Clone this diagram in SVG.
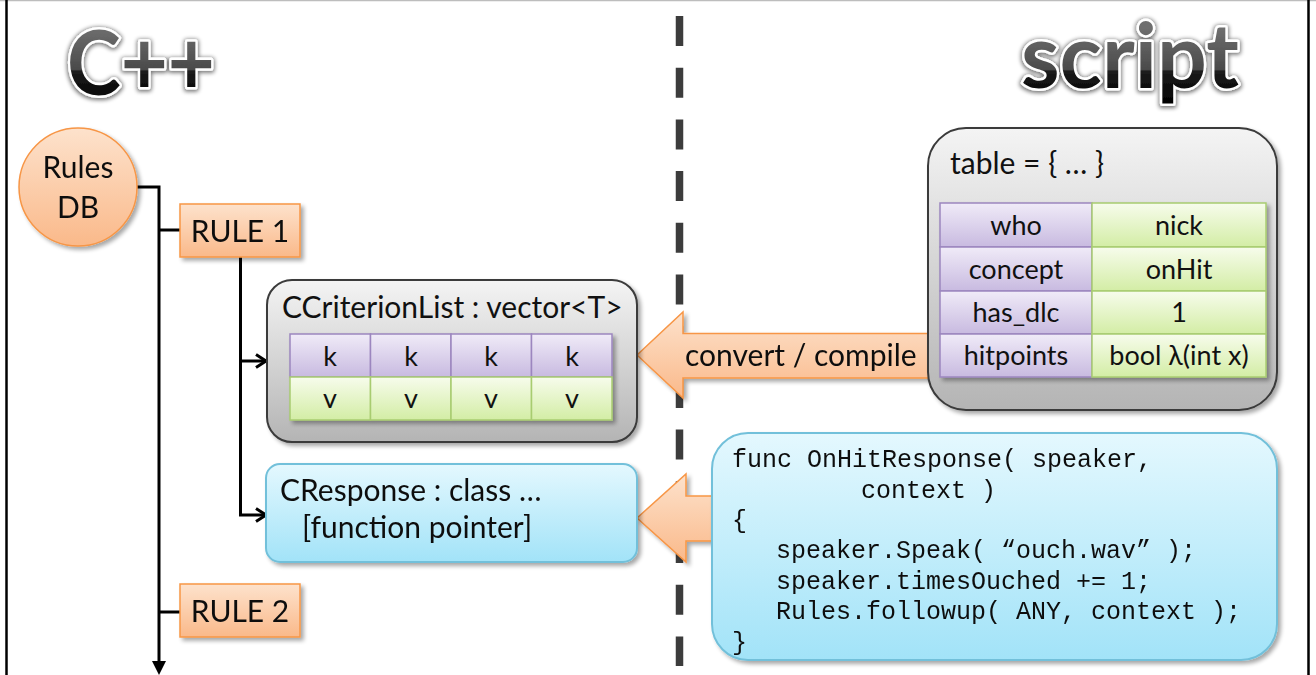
<svg xmlns="http://www.w3.org/2000/svg" width="1316" height="675" viewBox="0 0 1316 675">
<style>
  .lbl { font-family: Lato, "Open Sans", "Liberation Sans", sans-serif; font-size: 30px; fill: #111; }
  .cell { font-family: Lato, "Open Sans", "Liberation Sans", sans-serif; font-size: 27px; fill: #111; text-anchor: middle; }
  .mid { text-anchor: middle; }
  .code { font-family: "Liberation Mono", "DejaVu Sans Mono", monospace; font-size: 25px; fill: #111; }
  .title { font-family: Lato, "Open Sans", "Liberation Sans", sans-serif; font-weight: 700; font-size: 90px; fill: url(#gTitle); stroke: #ffffff; stroke-width: 5; paint-order: stroke; stroke-linejoin: round; }
  .conn { fill: none; stroke: #000; stroke-width: 3; }
  .orangeBox { fill: url(#gOrange); stroke: #f79646; stroke-width: 1.5; }
  .grayBox { fill: url(#gGray); stroke: #3a3a3a; stroke-width: 2; }
  .blueBox { fill: url(#gBlue); stroke: #72c0da; stroke-width: 2; }
  .pk { fill: url(#gPurple); stroke: #9c86bf; stroke-width: 1.5; }
  .gv { fill: url(#gGreen); stroke: #a8cc70; stroke-width: 1.5; }
  .block { fill: url(#gOrange); stroke: #f79646; stroke-width: 1.5; }
</style>
<defs>
  <linearGradient id="gGray" x1="0" y1="0" x2="0" y2="1">
    <stop offset="0" stop-color="#f4f4f4"/><stop offset="1" stop-color="#b4b4b4"/>
  </linearGradient>
  <linearGradient id="gBlue" x1="0" y1="0" x2="0" y2="1">
    <stop offset="0" stop-color="#e4f8fe"/><stop offset="1" stop-color="#a2e3f8"/>
  </linearGradient>
  <linearGradient id="gOrange" x1="0" y1="0" x2="0" y2="1">
    <stop offset="0" stop-color="#fde2cc"/><stop offset="1" stop-color="#fab98a"/>
  </linearGradient>
  <linearGradient id="gPurple" x1="0" y1="0" x2="0" y2="1">
    <stop offset="0" stop-color="#f0ebf8"/><stop offset="1" stop-color="#c8bae0"/>
  </linearGradient>
  <linearGradient id="gGreen" x1="0" y1="0" x2="0" y2="1">
    <stop offset="0" stop-color="#f7fcec"/><stop offset="1" stop-color="#d3eda5"/>
  </linearGradient>
  <linearGradient id="gTitle" gradientUnits="userSpaceOnUse" x1="0" y1="28" x2="0" y2="105">
    <stop offset="0" stop-color="#6e6e6e"/><stop offset="0.54" stop-color="#4a4a4a"/>
    <stop offset="0.56" stop-color="#1c1c1c"/><stop offset="1" stop-color="#000"/>
  </linearGradient>
  <filter id="shadow" x="-10%" y="-10%" width="125%" height="130%">
    <feGaussianBlur in="SourceAlpha" stdDeviation="2"/>
    <feOffset dx="3" dy="3" result="o"/>
    <feComponentTransfer><feFuncA type="linear" slope="0.35"/></feComponentTransfer>
    <feMerge><feMergeNode/><feMergeNode in="SourceGraphic"/></feMerge>
  </filter>
  <filter id="glow" x="-10%" y="-20%" width="120%" height="140%">
    <feMorphology in="SourceAlpha" operator="dilate" radius="1" result="d"/>
    <feGaussianBlur in="d" stdDeviation="2"/>
    <feOffset dx="0" dy="1"/>
    <feComponentTransfer><feFuncA type="linear" slope="0.55"/></feComponentTransfer>
    <feMerge><feMergeNode/><feMergeNode in="SourceGraphic"/></feMerge>
  </filter>
  <marker id="chev" markerUnits="userSpaceOnUse" viewBox="0 0 14 16" refX="12" refY="8" markerWidth="14" markerHeight="16" orient="auto">
    <path d="M2,1.5 L12,8 L2,14.5" fill="none" stroke="#000" stroke-width="3"/>
  </marker>
  <marker id="tri" markerUnits="userSpaceOnUse" viewBox="0 0 14 14" refX="0" refY="7" markerWidth="14" markerHeight="14" orient="auto">
    <path d="M0,0 L14,7 L0,14 z" fill="#000"/>
  </marker>
</defs>

<!-- frame -->
<g id="frame">
  <line x1="0" y1="0.5" x2="1316" y2="0.5" stroke="#bdbdbd" stroke-width="1.5"/>
  <line x1="6.5" y1="0" x2="6.5" y2="675" stroke="#000" stroke-width="2.5"/>
  <line x1="1308.5" y1="0" x2="1308.5" y2="675" stroke="#000" stroke-width="2.5"/>
</g>

<!-- titles -->
<g id="titles" filter="url(#glow)">
  <text class="title" x="67" y="95" textLength="148" lengthAdjust="spacingAndGlyphs">C++</text>
  <text class="title" x="1021" y="88" textLength="218" lengthAdjust="spacingAndGlyphs">script</text>
</g>

<!-- divider -->
<line id="divider" x1="679.5" y1="16" x2="679.5" y2="666" stroke="#3c3c3c" stroke-width="7.5" stroke-dasharray="30 21.7"/>

<!-- connectors -->
<g id="connectors">
  <path class="conn" d="M137,187 H159 V661" marker-end="url(#tri)"/>
  <path class="conn" d="M159,230 H180"/>
  <path class="conn" d="M159,612 H180"/>
  <path class="conn" d="M240.5,257 V515 H266" marker-end="url(#chev)"/>
  <path class="conn" d="M240.5,361 H266" marker-end="url(#chev)"/>
  <g id="convert-arrow" filter="url(#shadow)">
    <path class="block" d="M637,355 L683,312 L683,333.5 L940,333.5 L940,378 L683,378 L683,398 Z"/>
    <text class="lbl" x="685" y="366">convert / compile</text>
  </g>
  <path id="compile-arrow" class="block" filter="url(#shadow)" d="M637,518 L686,474 L686,496 L720,496 L720,541 L686,541 L686,562 Z"/>
</g>

<!-- nodes -->
<g id="rulesdb" filter="url(#shadow)">
  <circle cx="78" cy="187" r="59" class="orangeBox"/>
  <text class="lbl mid" x="78" y="178">Rules</text>
  <text class="lbl mid" x="78" y="218">DB</text>
</g>

<g id="rule1" filter="url(#shadow)">
  <rect x="180" y="204" width="120" height="53" class="orangeBox"/>
  <text class="lbl mid" x="240" y="242">RULE 1</text>
</g>

<g id="rule2" filter="url(#shadow)">
  <rect x="180" y="584" width="120" height="53" class="orangeBox"/>
  <text class="lbl mid" x="240" y="622">RULE 2</text>
</g>

<g id="ccriterionlist">
  <rect x="267" y="280" width="370" height="162" rx="25" class="grayBox" filter="url(#shadow)"/>
  <text class="lbl" x="282" y="318">CCriterionList : vector&lt;T&gt;</text>
  <g filter="url(#shadow)">
    <rect x="290" y="334" width="80.5" height="43" class="pk"/>
    <rect x="370.5" y="334" width="80.5" height="43" class="pk"/>
    <rect x="451" y="334" width="80.5" height="43" class="pk"/>
    <rect x="531.5" y="334" width="80.5" height="43" class="pk"/>
    <rect x="290" y="377" width="80.5" height="43" class="gv"/>
    <rect x="370.5" y="377" width="80.5" height="43" class="gv"/>
    <rect x="451" y="377" width="80.5" height="43" class="gv"/>
    <rect x="531.5" y="377" width="80.5" height="43" class="gv"/>
  </g>
  <text class="cell" x="330" y="366" font-size="30">k</text>
  <text class="cell" x="411" y="366" font-size="30">k</text>
  <text class="cell" x="491" y="366" font-size="30">k</text>
  <text class="cell" x="572" y="366" font-size="30">k</text>
  <text class="cell" x="330" y="408" font-size="30">v</text>
  <text class="cell" x="411" y="408" font-size="30">v</text>
  <text class="cell" x="491" y="408" font-size="30">v</text>
  <text class="cell" x="572" y="408" font-size="30">v</text>
</g>

<g id="cresponse" filter="url(#shadow)">
  <rect x="266" y="464" width="371" height="98" rx="14" class="blueBox"/>
  <text class="lbl" x="280" y="501">CResponse : class …</text>
  <text class="lbl" x="302" y="538">[function pointer]</text>
</g>

<g id="table">
  <rect x="928" y="128" width="349" height="282" rx="38" class="grayBox" filter="url(#shadow)"/>
  <text class="lbl" x="950" y="174">table = { … }</text>
  <g filter="url(#shadow)">
    <rect x="940" y="203" width="152" height="44" class="pk"/>
    <rect x="940" y="247" width="152" height="44" class="pk"/>
    <rect x="940" y="291" width="152" height="43" class="pk"/>
    <rect x="940" y="334" width="152" height="43" class="pk"/>
    <rect x="1092" y="203" width="174" height="44" class="gv"/>
    <rect x="1092" y="247" width="174" height="44" class="gv"/>
    <rect x="1092" y="291" width="174" height="43" class="gv"/>
    <rect x="1092" y="334" width="174" height="43" class="gv"/>
  </g>
  <text class="cell" x="1016" y="235">who</text>
  <text class="cell" x="1179" y="235">nick</text>
  <text class="cell" x="1016" y="279">concept</text>
  <text class="cell" x="1179" y="279">onHit</text>
  <text class="cell" x="1016" y="322">has_dlc</text>
  <text class="cell" x="1179" y="322">1</text>
  <text class="cell" x="1016" y="365">hitpoints</text>
  <text class="cell" x="1179" y="365">bool λ(int x)</text>
</g>

<g id="onhitresponse" filter="url(#shadow)">
  <rect x="712" y="433" width="565" height="227" rx="36" class="blueBox"/>
  <text class="code" x="732" y="467">func OnHitResponse( speaker,</text>
  <text class="code" x="861" y="497.5">context )</text>
  <text class="code" x="732" y="528">{</text>
  <text class="code" x="776" y="558">speaker.Speak( “ouch.wav” );</text>
  <text class="code" x="776" y="588.5">speaker.timesOuched += 1;</text>
  <text class="code" x="776" y="619">Rules.followup( ANY, context );</text>
  <text class="code" x="732" y="649.5">}</text>
</g>
</svg>
